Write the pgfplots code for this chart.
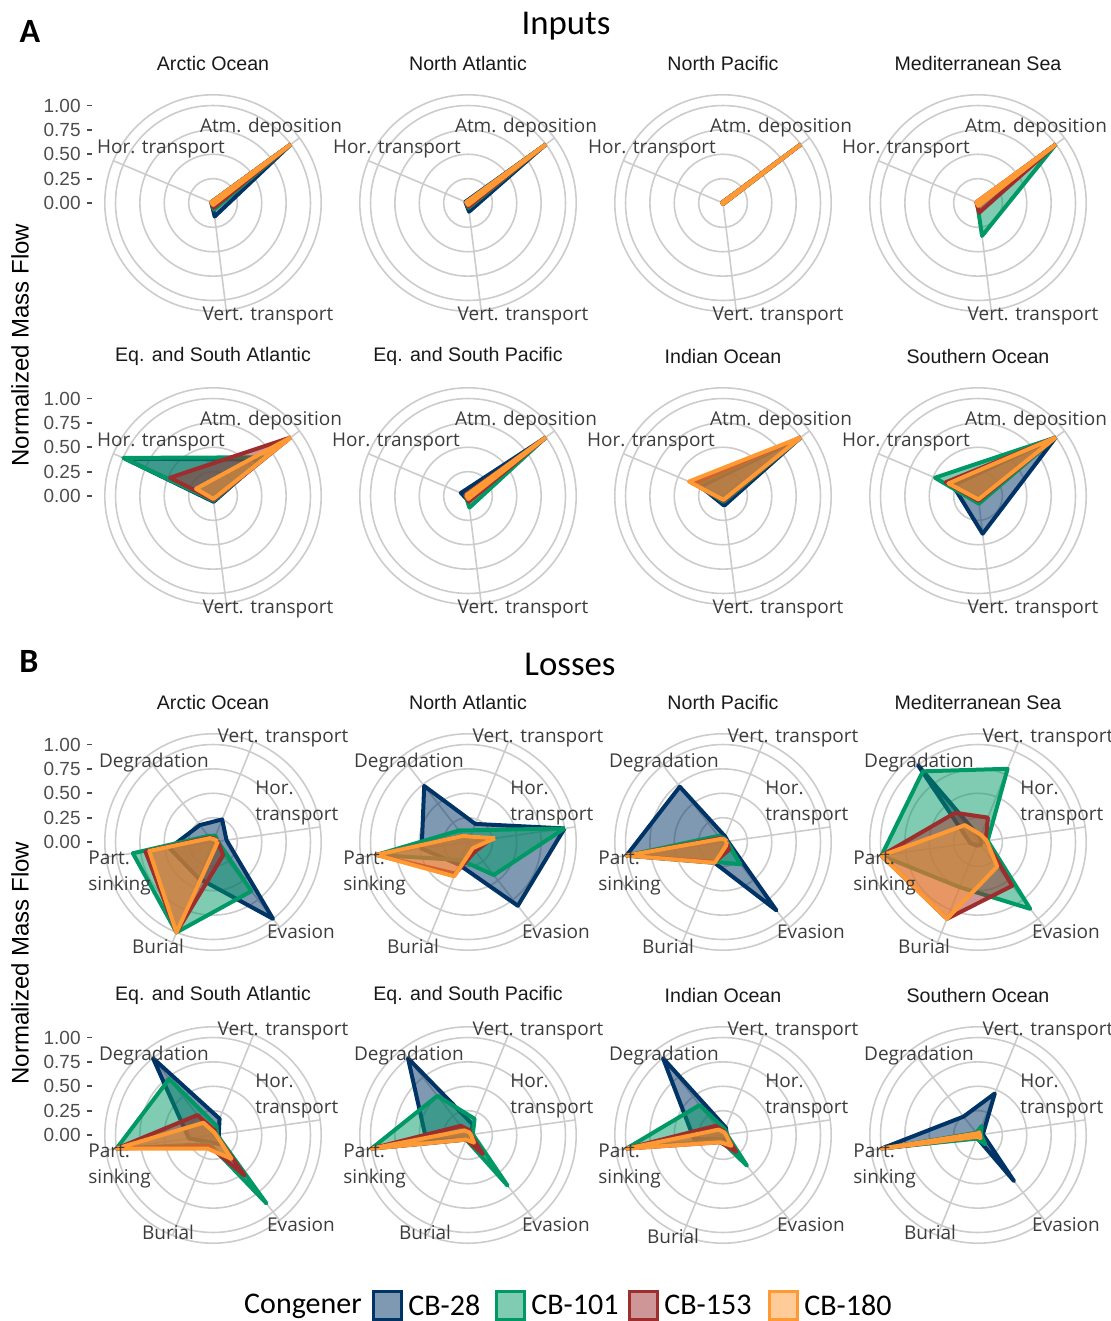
\documentclass[border=0pt]{standalone}
\usepackage{fontspec}
\setmainfont{Liberation Sans}
\newfontfamily\labfont{Open Sans}
\newfontfamily\calfont{Carlito}
\usepackage{pgfplots}
\usepackage{pgfplotstable}
\pgfplotsset{compat=1.18}
\usepgfplotslibrary{polar}

\definecolor{c28}{RGB}{0,51,102}
\definecolor{c101}{RGB}{0,153,102}
\definecolor{c153}{RGB}{158,45,45}
\definecolor{c180}{RGB}{255,153,51}
\definecolor{gridc}{RGB}{204,204,204}
\definecolor{txtc}{RGB}{77,77,77}
\definecolor{labc}{RGB}{60,60,60}

% angles: inputs Atm 37, Hor 157, Vert 277 ; losses Hor 8, Vert 68, Deg 128, Part 188, Burial 248, Evasion 308
\pgfplotstableread{
a   c28  c101 c153 c180
37  1.00 1.00 1.00 1.00
157 0.02 0.02 0.02 0.02
277 0.14 0.07 0.05 0.02
397 1.00 1.00 1.00 1.00
}\inArc
\pgfplotstableread{
a   c28  c101 c153 c180
37  1.00 1.00 1.00 1.00
157 0.03 0.02 0.02 0.02
277 0.09 0.05 0.04 0.02
397 1.00 1.00 1.00 1.00
}\inNAt
\pgfplotstableread{
a   c28  c101 c153 c180
37  1.00 1.00 1.00 1.00
157 0.01 0.01 0.01 0.01
277 0.01 0.01 0.01 0.01
397 1.00 1.00 1.00 1.00
}\inNPa
\pgfplotstableread{
a   c28  c101 c153 c180
37  1.00 1.00 1.00 1.00
157 0.01 0.01 0.02 0.02
277 0.02 0.34 0.10 0.03
397 1.00 1.00 1.00 1.00
}\inMed
\pgfplotstableread{
a   c28  c101 c153 c180
37  0.62 0.66 1.00 1.00
157 0.98 1.00 0.48 0.19
277 0.06 0.05 0.04 0.03
397 0.62 0.66 1.00 1.00
}\inESA
\pgfplotstableread{
a   c28  c101 c153 c180
37  1.00 1.00 1.00 1.00
157 0.08 0.03 0.03 0.02
277 0.05 0.12 0.06 0.03
397 1.00 1.00 1.00 1.00
}\inESP
\pgfplotstableread{
a   c28  c101 c153 c180
37  1.00 1.00 1.00 1.00
157 0.25 0.30 0.33 0.38
277 0.10 0.06 0.05 0.04
397 1.00 1.00 1.00 1.00
}\inInd
\pgfplotstableread{
a   c28  c101 c153 c180
37  1.00 1.00 1.00 1.00
157 0.28 0.48 0.36 0.33
277 0.39 0.08 0.05 0.035
397 1.00 1.00 1.00 1.00
}\inSou

\pgfplotstableread{
a   c28  c101 c153 c180
8   0.14 0.05 0.05 0.05
68  0.25 0.07 0.04 0.03
128 0.22 0.08 0.06 0.05
188 0.45 0.83 0.70 0.66
248 0.40 1.00 1.00 1.00
308 1.00 0.64 0.17 0.05
368 0.14 0.05 0.05 0.05
}\loArc
\pgfplotstableread{
a   c28  c101 c153 c180
8   1.00 1.00 0.25 0.28
68  0.20 0.13 0.06 0.06
128 0.73 0.15 0.08 0.08
188 0.48 0.95 0.95 0.95
248 0.25 0.20 0.35 0.38
308 0.83 0.43 0.12 0.08
368 1.00 1.00 0.25 0.28
}\loNAt
\pgfplotstableread{
a   c28  c101 c153 c180
8   0.05 0.04 0.04 0.04
68  0.06 0.04 0.03 0.03
128 0.72 0.08 0.05 0.04
188 1.00 1.00 1.00 1.00
248 0.23 0.22 0.22 0.23
308 0.89 0.29 0.10 0.05
368 0.05 0.04 0.04 0.04
}\loNPa
\pgfplotstableread{
a   c28  c101 c153 c180
8   0.04 0.10 0.08 0.09
68  0.05 0.81 0.27 0.08
128 1.00 0.92 0.38 0.22
188 0.08 1.00 1.00 1.00
248 0.04 0.50 0.85 0.85
308 0.04 0.87 0.57 0.32
368 0.04 0.10 0.08 0.09
}\loMed
\pgfplotstableread{
a   c28  c101 c153 c180
8   0.06 0.04 0.03 0.03
68  0.18 0.10 0.05 0.03
128 1.00 0.73 0.26 0.16
188 0.25 1.00 1.00 1.00
248 0.08 0.10 0.12 0.15
308 0.12 0.89 0.53 0.31
368 0.06 0.04 0.03 0.03
}\loESA
\pgfplotstableread{
a   c28  c101 c153 c180
8   0.04 0.05 0.03 0.03
68  0.12 0.18 0.05 0.03
128 1.00 0.51 0.12 0.06
188 0.43 1.00 1.00 1.00
248 0.05 0.05 0.05 0.05
308 0.08 0.66 0.25 0.10
368 0.04 0.05 0.03 0.03
}\loESP
\pgfplotstableread{
a   c28  c101 c153 c180
8   0.04 0.04 0.03 0.03
68  0.08 0.06 0.04 0.03
128 1.00 0.39 0.12 0.07
188 0.30 1.00 1.00 1.00
248 0.05 0.06 0.08 0.08
308 0.06 0.40 0.22 0.14
368 0.04 0.04 0.03 0.03
}\loInd
\pgfplotstableread{
a   c28  c101 c153 c180
8   0.05 0.03 0.02 0.02
68  0.46 0.10 0.03 0.03
128 0.24 0.03 0.02 0.02
188 1.00 0.90 0.95 1.00
248 0.03 0.04 0.02 0.02
308 0.60 0.12 0.04 0.04
368 0.05 0.03 0.02 0.02
}\loSou

\pgfplotsset{
  radar/.style={
    scale only axis, width=108.2pt, height=108.2pt,
    anchor=center, ymin=0, ymax=1.11, xmin=0, xmax=360,
    ytick={0.25,0.5,0.75,1}, yticklabels={}, xticklabels={},
    major tick length=0pt, grid=major,
    major grid style={draw=gridc, line width=0.8pt},
    separate axis lines,
    x axis line style={draw=gridc, line width=0.8pt},
    y axis line style={draw=none},
    clip=false,
  },
  radin/.style={radar, xtick={37,157,277}},
  radlo/.style={radar, xtick={8,68,128,188,248,308}},
  ser/.style={draw=#1, fill=#1, fill opacity=0.5, line width=2pt, line join=round, mark=none},
}

\tikzset{
  ttl/.style={font=\fontsize{9.8}{11}\selectfont, text=black!90, inner sep=0pt},
  lab/.style={font=\labfont\fontsize{9.5}{12.6}\selectfont, text=labc, inner sep=0pt},
  tck/.style={font=\fontsize{9.5}{11}\selectfont, text=txtc, inner sep=0pt, anchor=east},
}

\newcommand{\series}[1]{%
  \addplot[ser=c28] table[x=a,y=c28]{#1};
  \addplot[ser=c101] table[x=a,y=c101]{#1};
  \addplot[ser=c153] table[x=a,y=c153]{#1};
  \addplot[ser=c180] table[x=a,y=c180]{#1};
}

% #1 cx, #2 cy, #3 title, #4 table, #5 x offset of Hor. transport
\newcommand{\inpanel}[5]{%
  \coordinate (pc) at (#1,#2);
  \begin{polaraxis}[radin, at={(pc)}]
    \series{#4}
  \end{polaraxis}
  \node[ttl] at (#1,#2-140) {#3};
  \node[lab] at (#1+58,#2-75) {Atm. deposition};
  \node[lab] at (#1+#5,#2-54) {Hor. transport};
  \node[lab] at (#1+55,#2+113) {Vert. transport};
}

% #1 cx, #2 cy, #3 title, #4 table, #5 burial dx, #6 burial dy
\newcommand{\lopanel}[6]{%
  \coordinate (pc) at (#1,#2);
  \begin{polaraxis}[radlo, at={(pc)}]
    \series{#4}
  \end{polaraxis}
  \node[ttl] at (#1,#2-140) {#3};
  \node[lab] at (#1+70,#2-104) {Vert. transport};
  \node[lab] at (#1-59,#2-79) {Degradation};
  \node[lab, anchor=west, align=left] at (#1+42,#2-39) {Hor.\\transport};
  \node[lab, anchor=west, align=left] at (#1-125,#2+31) {Part.\\sinking};
  \node[lab] at (#1+#5,#2+#6) {Burial};
  \node[lab] at (#1+88,#2+90) {Evasion};
}

\newcommand{\yticks}[1]{%
  \foreach \v/\t in {0/0.00,0.25/0.25,0.5/0.50,0.75/0.75,1/1.00}{
    \node[tck] at (81,#1-97.5*\v) {\t};
    \draw[txtc, line width=0.9pt] (87,#1-97.5*\v) -- (92,#1-97.5*\v);
  }
}

\begin{document}
\begin{tikzpicture}[x=0.5pt, y=-0.5pt]
\path[use as bounding box] (0,0) rectangle (1111,1321);

\node[font=\calfont\bfseries\fontsize{17}{20}\selectfont] at (30,31) {A};
\node[font=\calfont\fontsize{17.4}{20}\selectfont] at (566,26) {Inputs};
\node[font=\fontsize{12}{14}\selectfont, rotate=90] at (20,345) {Normalized Mass Flow};

\inpanel{213}{203}{Arctic Ocean}{\inArc}{-52}
\inpanel{468}{203}{North Atlantic}{\inNAt}{-71}
\inpanel{723}{203}{North Pacific}{\inNPa}{-71}
\inpanel{978}{203}{Mediterranean Sea}{\inMed}{-72}
\inpanel{213}{496}{Eq. and South Atlantic}{\inESA}{-52}
\inpanel{468}{496}{Eq. and South Pacific}{\inESP}{-72}
\inpanel{723}{496}{Indian Ocean}{\inInd}{-72}
\inpanel{978}{496}{Southern Ocean}{\inSou}{-72}
\yticks{203}
\yticks{496}

\node[font=\calfont\bfseries\fontsize{17}{20}\selectfont] at (29,661) {B};
\node[font=\calfont\fontsize{17.4}{20}\selectfont] at (570,664) {Losses};
\node[font=\fontsize{12}{14}\selectfont, rotate=90] at (20,963) {Normalized Mass Flow};

\lopanel{213}{842}{Arctic Ocean}{\loArc}{-55}{104}
\lopanel{468}{842}{North Atlantic}{\loNAt}{-55}{104}
\lopanel{723}{842}{North Pacific}{\loNPa}{-55}{104}
\lopanel{978}{842}{Mediterranean Sea}{\loMed}{-54}{104}
\lopanel{213}{1135}{Eq. and South Atlantic}{\loESA}{-45}{97}
\lopanel{468}{1135}{Eq. and South Pacific}{\loESP}{-43}{97}
\lopanel{723}{1135}{Indian Ocean}{\loInd}{-50}{101}
\lopanel{978}{1135}{Southern Ocean}{\loSou}{-48}{97}
\yticks{842}
\yticks{1135}

% legend
\node[font=\calfont\fontsize{15}{18}\selectfont] at (303,1306) {Congener};
\foreach \c/\xa/\lbl in {c28/373/CB-28, c101/496/CB-101, c153/629/CB-153, c180/769/CB-180}{
  \draw[\c, line width=1.5pt, fill=\c, fill opacity=0.5] (\xa,1291) rectangle (\xa+28,1319);
  \node[font=\calfont\fontsize{15}{18}\selectfont, anchor=west, inner sep=0pt] at (\xa+35,1305) {\lbl};
}
\end{tikzpicture}
\end{document}
